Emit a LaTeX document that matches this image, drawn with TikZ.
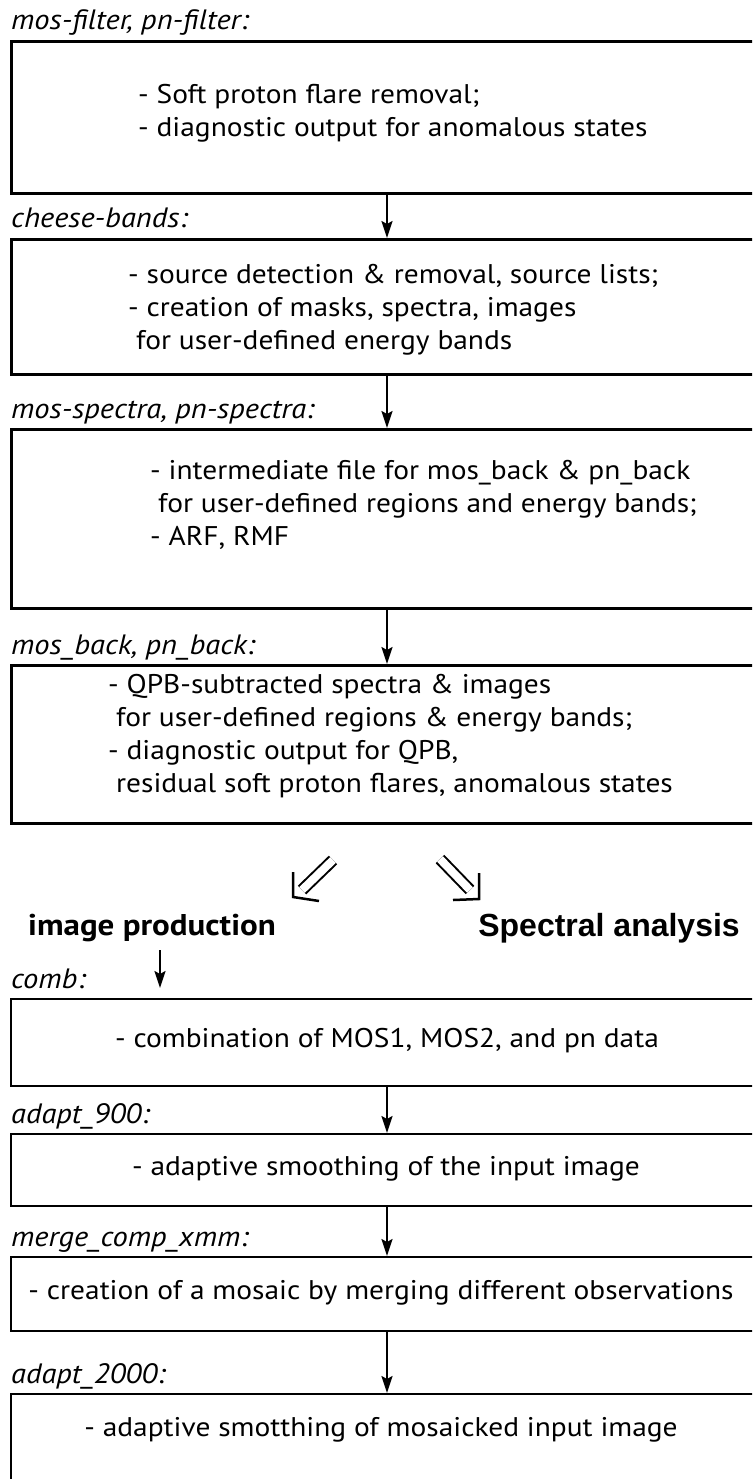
\documentclass[tikz,border=0pt]{standalone}
\usepackage{fontspec}
\setmainfont{PT Sans}[FakeStretch=1.09]
\newfontfamily\headfont{Liberation Sans}
\newfontfamily\prodfont{PT Sans}[FakeStretch=1.1]
\usetikzlibrary{arrows.meta,positioning,calc}

\begin{document}
\begin{tikzpicture}[x=1pt, y=-1pt, >={Stealth[length=17pt,width=11pt,inset=3pt]}]
\tikzstyle{stage}=[draw=black, line width=3pt, anchor=north west, minimum width=760pt, inner sep=0pt]
\tikzstyle{thinstage}=[stage, line width=2pt]
\tikzstyle{tag}=[anchor=base west, inner sep=0pt, font=\fontsize{28}{30}\selectfont\itshape]
\tikzstyle{body}=[anchor=west, align=left, inner sep=0pt, font=\fontsize{27}{33}\selectfont]
\tikzstyle{single}=[anchor=center, inner sep=0pt, font=\fontsize{27}{33}\selectfont]
\tikzstyle{heading}=[inner sep=0pt, font=\fontsize{30}{32}\selectfont\bfseries]
\tikzstyle{flow}=[->, line width=2pt]
\tikzstyle{branch}=[double, double distance=8pt, line width=2pt]
\tikzstyle{barb}=[line width=2.5pt, line join=miter]
\useasboundingbox (0,0) rectangle (752,1479);
\clip (0,0) rectangle (752,1479);
\coordinate (spine) at (387,0);

% pre-processing chain
\node[stage, minimum height=152pt] (filter) at (10,40) {};
\node[tag] (filtertag) at ([xshift=1pt,yshift=10pt]filter.north west) {mos-filter, pn-filter:};
\node[body] (filtertext) at (138,113) {- Soft proton flare removal;\\- diagnostic output for anomalous states};

\node[stage, minimum height=135pt] (cheese) at (10,238) {};
\node[tag] (cheesetag) at ([xshift=1pt,yshift=10pt]cheese.north west) {cheese-bands:};
\node[body] (cheesetext) at (128,310) {- source detection \& removal, source lists;\\- creation of masks, spectra, images\\\hspace*{8pt}for user-defined energy bands};

\node[stage, minimum height=179pt] (spectra) at (10,428) {};
\node[tag] (spectratag) at ([xshift=1pt,yshift=10pt]spectra.north west) {mos-spectra, pn-spectra:};
\node[body] (spectratext) at (150,505) {- intermediate file for mos\_back \& pn\_back\\\hspace*{8pt}for user-defined regions and energy bands;\\- ARF, RMF};

\node[stage, minimum height=158pt] (back) at (10,664) {};
\node[tag] (backtag) at ([xshift=1pt,yshift=10pt]back.north west) {mos\_back, pn\_back:};
\node[body] (backtext) at (108,736) {- QPB-subtracted spectra \& images\\\hspace*{8pt}for user-defined regions \& energy bands;\\- diagnostic output for QPB,\\\hspace*{8pt}residual soft proton flares, anomalous states};

\draw[flow] (filter.south -| spine) -- (cheese.north -| spine);
\draw[flow] (cheese.south -| spine) -- (spectra.north -| spine);
\draw[flow] (spectra.south -| spine) -- (back.north -| spine);

% split into the two branches
\node[heading, anchor=west] (imgprod) at (28,928) {\prodfont image production};
\node[heading, anchor=east, font=\fontsize{32}{34}\selectfont\bfseries] (specana) at (740,928) {\headfont Spectral analysis};
\coordinate (lfrom) at (333,860);
\coordinate (lstem) at (302,890);
\coordinate (ltip) at (293,897);
\coordinate (rfrom) at (440,859);
\coordinate (rstem) at (470,890);
\coordinate (rtip) at (479,899);
\draw[branch] (lfrom) -- (lstem);
\draw[barb] ([yshift=25pt]ltip) -- (ltip) -- ([xshift=26pt,yshift=-4pt]ltip);
\draw[branch] (rfrom) -- (rstem);
\draw[barb] ([yshift=26pt]rtip) -- (rtip) -- ([xshift=-26pt,yshift=-1pt]rtip);

% image production chain
\node[thinstage, minimum height=87pt] (comb) at (10,998) {};
\node[tag] (combtag) at ([xshift=1pt,yshift=10pt]comb.north west) {comb:};
\node[single] (combtext) at (387,1041) {- combination of MOS1, MOS2, and pn data};

\node[thinstage, minimum height=72pt] (adapt) at (10,1133) {};
\node[tag] (adapttag) at ([xshift=1pt,yshift=10pt]adapt.north west) {adapt\_900:};
\node[single] (adapttext) at (386,1169) {- adaptive smoothing of the input image};

\node[thinstage, minimum height=74pt] (merge) at (10,1256) {};
\node[tag] (mergetag) at ([xshift=1pt,yshift=10pt]merge.north west) {merge\_comp\_xmm:};
\node[single] (mergetext) at (381,1293) {- creation of a mosaic by merging different observations};

\node[thinstage, minimum height=120pt] (mosaic) at (10,1393) {};
\node[tag] (mosaictag) at ([xshift=1pt,yshift=10pt]mosaic.north west) {adapt\_2000:};
\node[single] (mosaictext) at (381,1430) {- adaptive smotthing of mosaicked input image};

\coordinate (combin) at (160,988);
\draw[flow] ([yshift=-8pt]imgprod.south -| combin) -- (combin);
\draw[flow] (comb.south -| spine) -- (adapt.north -| spine);
\draw[flow] (adapt.south -| spine) -- (merge.north -| spine);
\draw[flow] (merge.south -| spine) -- (mosaic.north -| spine);
\end{tikzpicture}
\end{document}
